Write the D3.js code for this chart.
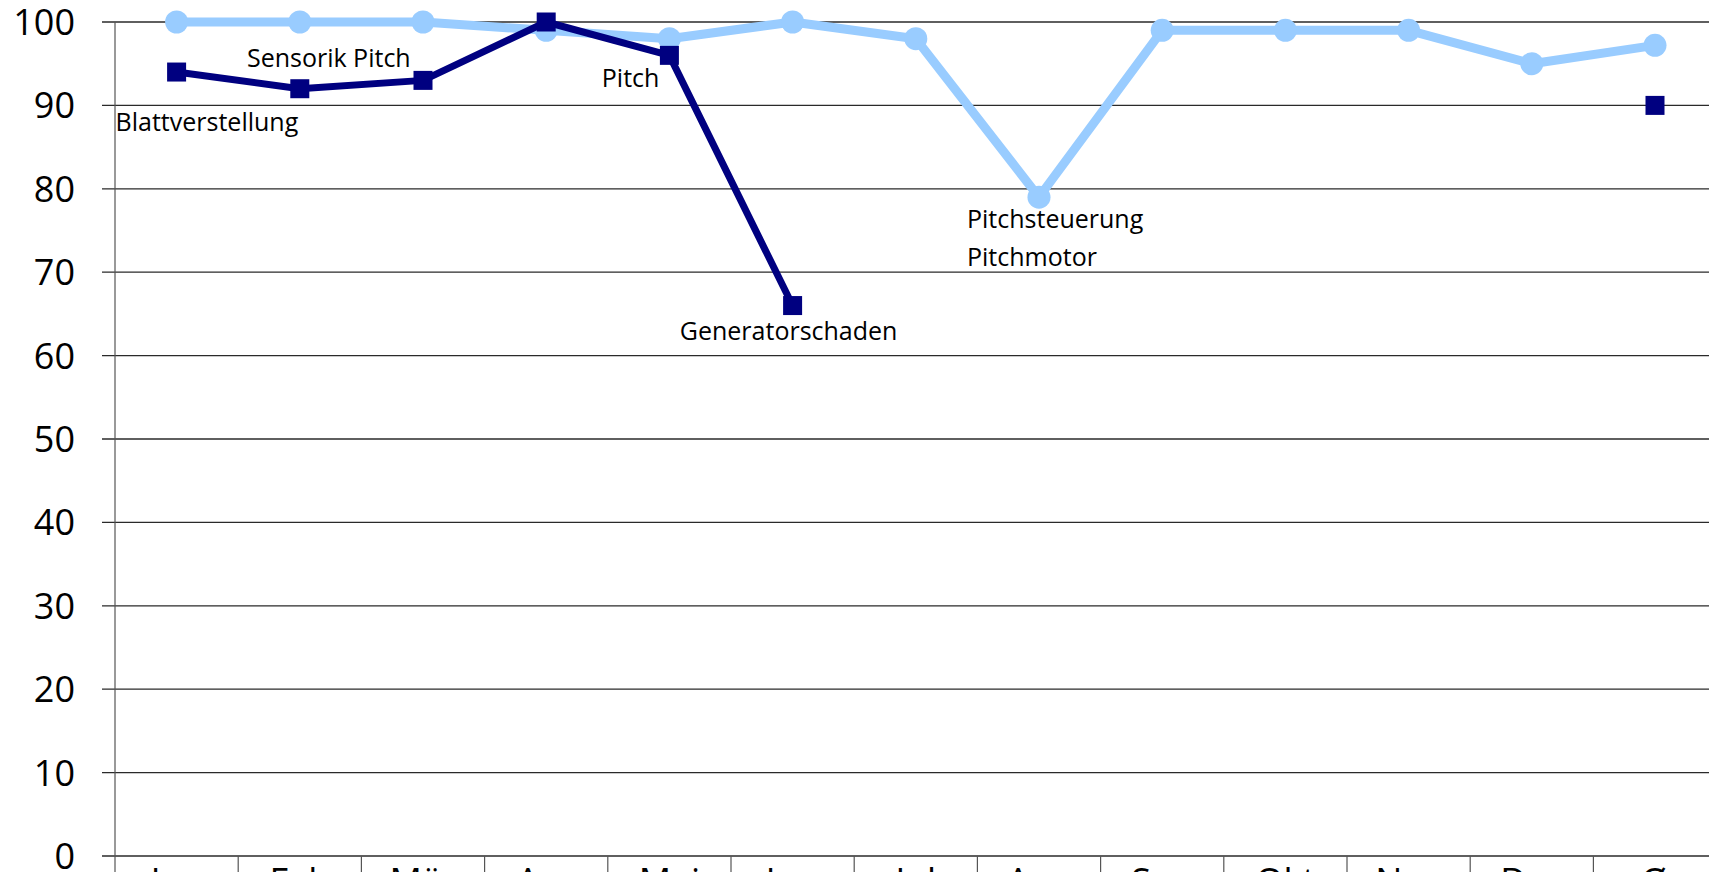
<!DOCTYPE html>
<html>
<meta charset="utf-8">
<head>
  <title>Verfügbarkeit</title>
</head>

<style>
body { margin: 0; background: white; }
text {
  font-family: "Open Sans", "Noto Sans", sans-serif;
  fill: black;
}
.grid line { stroke: #2a2a2a; stroke-width: 1.3; }
.note { font-size: 25px; }
.tick-y { font-size: 36px; }
.tick-x { font-size: 36px; }
</style>

<body>
  <svg width="1709" height="872"></svg>

  <script src="https://cdn.jsdelivr.net/npm/d3@7"></script>
  <script>

var months = ["Jan", "Feb", "Mär", "Apr", "Mai", "Jun", "Jul", "Aug", "Sep", "Okt", "Nov", "Dez", "Ø"];

// light blue line (circles)
var seriesA = [100, 100, 100, 99, 98, 100, 98, 79, 99, 99, 99, 95, 97.2];
// dark blue line (squares), no values from Jul to Dez
var seriesB = [94, 92, 93, 100, 96, 66, null, null, null, null, null, null, 90];

var yTicks = [0, 10, 20, 30, 40, 50, 60, 70, 80, 90, 100];

// data labels: month, which series, text lines
var notes = [
  {month: "Jan", series: "B", lines: ["Blattverstellung"]},
  {month: "Feb", series: "A", lines: ["Sensorik Pitch"]},
  {month: "Mai", series: "B", lines: ["Pitch"]},
  {month: "Jun", series: "B", lines: ["Generatorschaden"]},
  {month: "Aug", series: "A", lines: ["Pitchsteuerung", "Pitchmotor"]}
];

var plotLeft = 115, plotTop = 22, plotBottom = 856;
var colW = 123.2;

var svg = d3.select('svg');

var x = d3.scaleBand()
  .domain(months)
  .range([plotLeft, plotLeft + colW * months.length]);

var y = d3.scaleLinear()
  .domain([0, 100])
  .range([plotBottom, plotTop]);

var cx = function(m) { return x(m) + x.bandwidth() / 2; };

// horizontal gridlines
svg.append('g')
  .attr('class', 'grid')
  .selectAll('line')
  .data(yTicks)
  .enter()
  .append('line')
  .attr('x1', plotLeft - 13)
  .attr('x2', 1709)
  .attr('y1', function(d) { return y(d); })
  .attr('y2', function(d) { return y(d); });

// y axis line
svg.append('line')
  .attr('x1', plotLeft).attr('x2', plotLeft)
  .attr('y1', plotTop).attr('y2', 872)
  .attr('stroke', '#555')
  .attr('stroke-width', 1.2);

// category separators below the axis
svg.append('g')
  .selectAll('line')
  .data(months)
  .enter()
  .append('line')
  .attr('x1', function(d) { return x(d) + x.bandwidth(); })
  .attr('x2', function(d) { return x(d) + x.bandwidth(); })
  .attr('y1', plotBottom)
  .attr('y2', 872)
  .attr('stroke', '#555')
  .attr('stroke-width', 1.2);

// y tick labels
svg.append('g')
  .selectAll('text')
  .data(yTicks)
  .enter()
  .append('text')
  .attr('class', 'tick-y')
  .attr('x', 75)
  .attr('y', function(d) { return y(d); })
  .attr('dy', '0.36em')
  .attr('text-anchor', 'end')
  .text(function(d) { return d; });

// x labels (mostly cut off by the bottom edge)
svg.append('g')
  .selectAll('text')
  .data(months)
  .enter()
  .append('text')
  .attr('class', 'tick-x')
  .attr('x', cx)
  .attr('y', 894)
  .attr('text-anchor', 'middle')
  .text(function(d) { return d; });

var rowsA = months.map(function(m, i) { return {m: m, v: seriesA[i]}; });
var rowsB = months.map(function(m, i) { return {m: m, v: seriesB[i]}; });

var line = d3.line()
  .defined(function(d) { return d.v != null; })
  .x(function(d) { return cx(d.m); })
  .y(function(d) { return y(d.v); });

svg.append('path')
  .datum(rowsA)
  .attr('fill', 'none')
  .attr('stroke', '#99ccff')
  .attr('stroke-width', 9)
  .attr('stroke-linejoin', 'round')
  .attr('d', line);

svg.selectAll('circle')
  .data(rowsA)
  .enter()
  .append('circle')
  .attr('cx', function(d) { return cx(d.m); })
  .attr('cy', function(d) { return y(d.v); })
  .attr('r', 11.5)
  .attr('fill', '#99ccff');

svg.append('path')
  .datum(rowsB)
  .attr('fill', 'none')
  .attr('stroke', '#000080')
  .attr('stroke-width', 7)
  .attr('stroke-linejoin', 'round')
  .attr('d', line);

svg.selectAll('rect.pt')
  .data(rowsB.filter(function(d) { return d.v != null; }))
  .enter()
  .append('rect')
  .attr('class', 'pt')
  .attr('x', function(d) { return cx(d.m) - 9.5; })
  .attr('y', function(d) { return y(d.v) - 9.5; })
  .attr('width', 19)
  .attr('height', 19)
  .attr('fill', '#000080');

// label offsets relative to their point
var offsets = {
  "Jan": {dx: -61, dy: 59, anchor: 'start'},
  "Feb": {dx: 29, dy: 45, anchor: 'middle'},
  "Mai": {dx: -10, dy: 32, anchor: 'end'},
  "Jun": {dx: -4, dy: 34, anchor: 'middle'},
  "Aug": {dx: -72, dy: 31, anchor: 'start'}
};

var noteG = svg.append('g')
  .selectAll('text')
  .data(notes)
  .enter()
  .append('text')
  .attr('class', 'note')
  .attr('text-anchor', function(d) { return offsets[d.month].anchor; })
  .attr('transform', function(d) {
    var v = (d.series == "A" ? seriesA : seriesB)[months.indexOf(d.month)];
    var o = offsets[d.month];
    return 'translate(' + [cx(d.month) + o.dx, y(v) + o.dy] + ')';
  });

noteG.selectAll('tspan')
  .data(function(d) { return d.lines; })
  .enter()
  .append('tspan')
  .attr('x', 0)
  .attr('y', function(d, i) { return i * 38; })
  .text(function(d) { return d; });

  </script>
</body>
</html>
